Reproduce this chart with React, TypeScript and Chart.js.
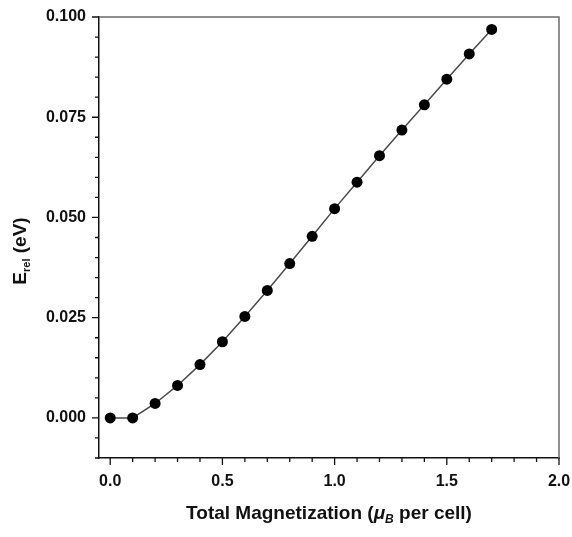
import React, { useEffect, useRef } from "react";
import { Chart, registerables } from "chart.js";

Chart.register(...registerables);

const magnetization = [0.0, 0.1, 0.2, 0.3, 0.4, 0.5, 0.6, 0.7, 0.8, 0.9, 1.0, 1.1, 1.2, 1.3, 1.4, 1.5, 1.6, 1.7];
const energyRel = [0.0, 0.0, 0.0036, 0.0081, 0.0133, 0.019, 0.0253, 0.0318, 0.0385, 0.0453, 0.0522, 0.0588, 0.0654, 0.0718, 0.0781, 0.0845, 0.0908, 0.0969];

const xMajorTicks = [0.0, 0.5, 1.0, 1.5, 2.0];
const xMinorTicks = [0.1, 0.2, 0.3, 0.4, 0.6, 0.7, 0.8, 0.9, 1.1, 1.2, 1.3, 1.4, 1.6, 1.7, 1.8, 1.9];
const yMajorTicks = [0.0, 0.025, 0.05, 0.075, 0.1];
const yMinorTicks = [-0.01, -0.005, 0.005, 0.01, 0.015, 0.02, 0.03, 0.035, 0.04, 0.045, 0.055, 0.06, 0.065, 0.07, 0.08, 0.085, 0.09, 0.095];

const xTitleParts = ["Total Magnetization (", "\u03bc", "B", " per cell)"];
const yTitleParts = ["E", "rel", " (eV)"];

const FONT = "'Liberation Sans', Arial, Helvetica, sans-serif";

const decorPlugin = {
  id: "decor",
  afterDraw(chart: any) {
    const ctx = chart.ctx as CanvasRenderingContext2D;
    const area = chart.chartArea;
    const xs = chart.scales.x;
    const ys = chart.scales.y;
    ctx.save();
    // frame top and right
    ctx.strokeStyle = "#6a6a6a";
    ctx.lineWidth = 1.5;
    ctx.beginPath();
    ctx.moveTo(area.left, area.top);
    ctx.lineTo(area.right, area.top);
    ctx.lineTo(area.right, area.bottom);
    ctx.stroke();
    // ticks
    ctx.strokeStyle = "#111";
    ctx.lineWidth = 1.3;
    ctx.beginPath();
    const tick = (v: number, len: number, axis: "x" | "y") => {
      if (axis === "x") {
        const px = xs.getPixelForValue(v);
        ctx.moveTo(px, area.bottom);
        ctx.lineTo(px, area.bottom + len);
      } else {
        const py = ys.getPixelForValue(v);
        ctx.moveTo(area.left, py);
        ctx.lineTo(area.left - len, py);
      }
    };
    xMajorTicks.forEach((v) => tick(v, 7, "x"));
    xMinorTicks.forEach((v) => tick(v, 4, "x"));
    yMajorTicks.forEach((v) => tick(v, 7, "y"));
    yMinorTicks.forEach((v) => tick(v, 4, "y"));
    ctx.stroke();

    // x title
    ctx.fillStyle = "#111";
    ctx.textBaseline = "alphabetic";
    ctx.textAlign = "left";
    const big = `bold 19px ${FONT}`;
    const bigItal = `italic bold 19px ${FONT}`;
    const sub = `italic bold 12px ${FONT}`;
    ctx.font = big;
    const w0 = ctx.measureText(xTitleParts[0]).width;
    const w3 = ctx.measureText(xTitleParts[3]).width;
    ctx.font = bigItal;
    const w1 = ctx.measureText(xTitleParts[1]).width;
    ctx.font = sub;
    const w2 = ctx.measureText(xTitleParts[2]).width;
    const total = w0 + w1 + w2 + w3;
    let x = (area.left + area.right) / 2 - total / 2;
    const by = 519;
    ctx.font = big;
    ctx.fillText(xTitleParts[0], x, by);
    x += w0;
    ctx.font = bigItal;
    ctx.fillText(xTitleParts[1], x, by);
    x += w1;
    ctx.font = sub;
    ctx.fillText(xTitleParts[2], x, by + 4);
    x += w2;
    ctx.font = big;
    ctx.fillText(xTitleParts[3], x, by);

    // y title (rotated)
    ctx.save();
    ctx.translate(26, 251);
    ctx.rotate(-Math.PI / 2);
    const ybig = `bold 19px ${FONT}`;
    const ysub = `bold 11px ${FONT}`;
    ctx.font = ybig;
    const e0 = ctx.measureText(yTitleParts[0]).width;
    const e2 = ctx.measureText(yTitleParts[2]).width;
    ctx.font = ysub;
    const e1 = ctx.measureText(yTitleParts[1]).width;
    let tx = -(e0 + e1 + e2) / 2;
    ctx.font = ybig;
    ctx.fillText(yTitleParts[0], tx, 0);
    tx += e0;
    ctx.font = ysub;
    ctx.fillText(yTitleParts[1], tx, 4);
    tx += e1;
    ctx.font = ybig;
    ctx.fillText(yTitleParts[2], tx, 0);
    ctx.restore();

    ctx.restore();
  },
};

export default function App() {
  const canvasRef = useRef<HTMLCanvasElement>(null);

  useEffect(() => {
    const canvas = canvasRef.current;
    if (!canvas) return;
    const chart = new Chart(canvas, {
      type: "line",
      data: {
        datasets: [
          {
            data: magnetization.map((m, i) => ({ x: m, y: energyRel[i] })),
            borderColor: "#4a4a4a",
            borderWidth: 1.5,
            pointRadius: 5.5,
            pointHoverRadius: 5.5,
            pointBackgroundColor: "#000",
            pointBorderColor: "#000",
            pointBorderWidth: 0,
            tension: 0,
            fill: false,
          },
        ],
      },
      options: {
        animation: false,
        responsive: false,
        maintainAspectRatio: false,
        layout: { padding: { top: 17, right: 13, left: 0, bottom: 0 } },
        plugins: { legend: { display: false }, tooltip: { enabled: false }, title: { display: false } },
        scales: {
          x: {
            type: "linear",
            min: -0.05,
            max: 2.0,
            afterBuildTicks: (scale: any) => {
              scale.ticks = xMajorTicks.map((v) => ({ value: v }));
            },
            afterFit: (scale: any) => {
              scale.height = 79;
              scale.paddingLeft = 0;
              scale.paddingRight = 0;
              scale.paddingTop = 0;
              scale.paddingBottom = 0;
            },
            grid: { display: true, drawOnChartArea: false, drawTicks: false },
            border: { display: true, color: "#111", width: 1.5 },
            ticks: {
              padding: 14,
              color: "#111",
              font: { family: FONT, size: 16, weight: "bold" },
              callback: (v: any) => Number(v).toFixed(1),
              maxRotation: 0,
            },
          },
          y: {
            type: "linear",
            min: -0.01,
            max: 0.1,
            afterBuildTicks: (scale: any) => {
              scale.ticks = yMajorTicks.map((v) => ({ value: v }));
            },
            afterFit: (scale: any) => {
              scale.width = 99;
              scale.paddingLeft = 0;
              scale.paddingRight = 0;
              scale.paddingTop = 0;
              scale.paddingBottom = 0;
            },
            grid: { display: true, drawOnChartArea: false, drawTicks: false },
            border: { display: true, color: "#111", width: 1.5 },
            ticks: {
              padding: 13,
              color: "#111",
              font: { family: FONT, size: 16, weight: "bold" },
              callback: (v: any) => Number(v).toFixed(3),
            },
          },
        },
      },
      plugins: [decorPlugin],
    });
    return () => chart.destroy();
  }, []);

  return (
    <div style={{ position: "absolute", left: 0, top: 0, width: 572, height: 537, background: "#fff" }}>
      <canvas ref={canvasRef} width={572} height={537} style={{ width: 572, height: 537 }} />
    </div>
  );
}
